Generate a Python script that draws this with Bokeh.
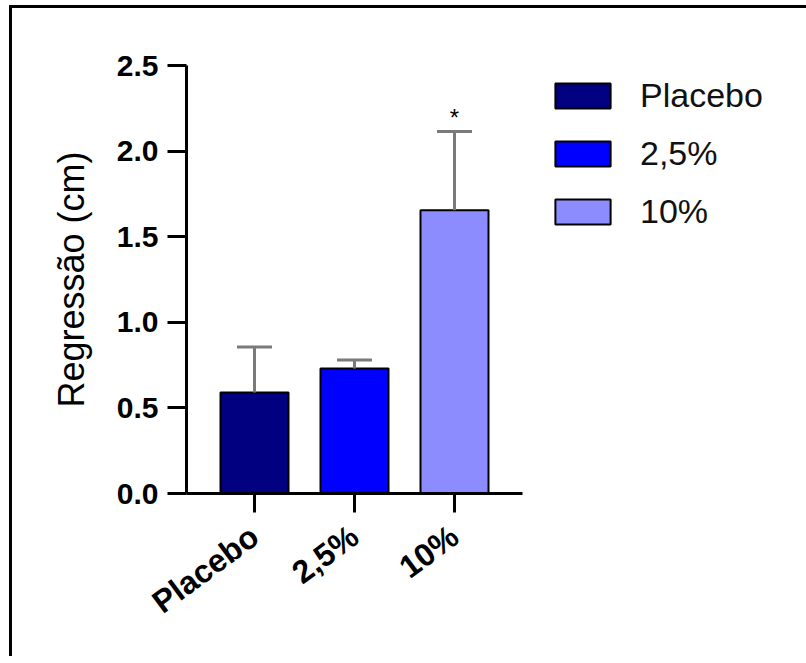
from bokeh.plotting import figure
from bokeh.models import (ColumnDataSource, FactorRange, FixedTicker, Whisker, TeeHead,
                          Legend, LegendItem, NumeralTickFormatter)
from bokeh.core.properties import value
from bokeh.embed import file_html
from bokeh.resources import INLINE

groups = ["Placebo", "2,5%", "10%"]
means = [0.59, 0.73, 1.655]
errors = [0.265, 0.05, 0.46]
colors = ["#000080", "#0000FF", "#8C8CFF"]
marks = ["", "", "*"]
y_ticks = [0.0, 0.5, 1.0, 1.5, 2.0, 2.5]

upper = [m + e for m, e in zip(means, errors)]
src = ColumnDataSource(dict(g=groups, m=means, up=upper, c=colors, mk=marks))

xr = FactorRange(factors=groups, range_padding=0.18, range_padding_units="absolute")
p = figure(x_range=xr, y_range=(0, 2.5), frame_width=336, frame_height=428,
           min_border_left=174, min_border_top=57, min_border_bottom=163, min_border_right=265,
           output_backend="svg", toolbar_location=None, background_fill_color="white",
           border_fill_color="white")
p.styles = {"border-top": "3px solid black", "border-left": "3px solid black",
            "margin-left": "9px", "margin-top": "5px"}
p.outline_line_color = None
p.xgrid.grid_line_color = None
p.ygrid.grid_line_color = None

bars = p.vbar(x="g", top="m", width=0.68, source=src, fill_color="c",
              line_color="black", line_width=2)

wh = Whisker(base="g", upper="up", lower="m", source=src, line_color="#7a7a7a", line_width=3,
             upper_head=TeeHead(size=35, line_color="#7a7a7a", line_width=3), lower_head=None,
             level="annotation")
p.add_layout(wh)

p.text(x="g", y="up", text="mk", source=src, text_align="center", text_baseline="bottom",
       text_font=value("Liberation Sans"), text_font_size="24px", text_color="black")

# axes
for ax in (p.xaxis[0], p.yaxis[0]):
    ax.axis_line_width = 3
    ax.axis_line_color = "black"
    ax.major_tick_line_width = 3
    ax.major_tick_line_color = "black"
    ax.major_tick_in = 0
    ax.major_tick_out = 19
    ax.minor_tick_line_color = None
    ax.major_label_text_font = "Liberation Sans"
    ax.major_label_text_font_style = "bold"
    ax.major_label_text_font_size = "30px"
    ax.major_label_text_color = "black"

p.yaxis.ticker = FixedTicker(ticks=y_ticks)
p.yaxis.formatter = NumeralTickFormatter(format="0.0")
p.yaxis.major_label_standoff = 9
p.yaxis.axis_label = "Regressão (cm)"
p.yaxis.axis_label_text_font = "Liberation Sans"
p.yaxis.axis_label_text_font_style = "normal"
p.yaxis.axis_label_text_font_size = "36px"
p.yaxis.axis_label_text_color = "black"
p.yaxis.axis_label_standoff = 22

p.xaxis.major_label_orientation = 0.64
p.xaxis.major_label_text_font_size = "32px"
p.xaxis.major_label_standoff = 20

items = [LegendItem(label=groups[i], renderers=[bars], index=i) for i in range(3)]
legend = Legend(items=items, location=(26, 262), orientation="vertical")
legend.glyph_width = 69
legend.glyph_height = 31
legend.label_height = 31
legend.label_standoff = 23
legend.spacing = 19
legend.padding = 0
legend.margin = 0
legend.border_line_color = None
legend.background_fill_color = None
legend.label_text_font = "Liberation Sans"
legend.label_text_font_size = "34px"
legend.label_text_color = "#111111"
p.add_layout(legend, "right")

open("out.html", "w").write(file_html(p, INLINE))
